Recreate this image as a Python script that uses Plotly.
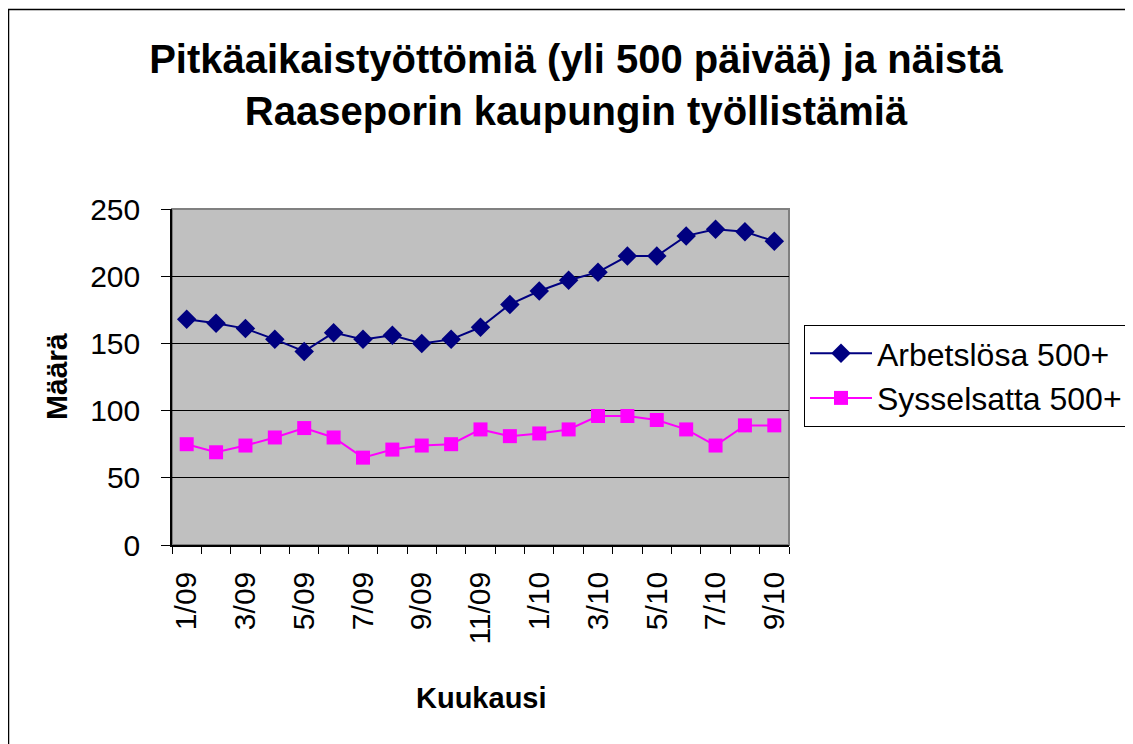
import plotly.graph_objects as go

months = ["1/09", "2/09", "3/09", "4/09", "5/09", "6/09", "7/09", "8/09", "9/09", "10/09",
          "11/09", "12/09", "1/10", "2/10", "3/10", "4/10", "5/10", "6/10", "7/10", "8/10", "9/10"]
arbetslosa = [168, 165, 161, 153, 144, 158, 153, 156, 150, 153,
              162, 179, 189, 197, 203, 215, 215, 230, 235, 233, 226]
sysselsatta = [75, 69, 74, 80, 87, 80, 65, 71, 74, 75,
               86, 81, 83, 86, 96, 96, 93, 86, 74, 89, 89]
y_ticks = [0, 50, 100, 150, 200, 250]

xs = list(range(len(months)))
FONT = "Liberation Sans, Arial, sans-serif"

W, H = 1133, 744
OFF = 8  # page body margin: figure coords = screen coords - OFF
L, R, T, B = 172 - OFF, 789 - OFF, 209 - OFF, 545 - OFF

def px_x(p):  # screen px -> paper
    return (p - OFF - L) / (R - L)

def px_y(p):
    return (B - (p - OFF)) / (B - T)

fig = go.Figure()
fig.add_trace(go.Scatter(
    x=xs, y=arbetslosa, name="Arbetslösa 500+", mode="lines+markers",
    line=dict(color="#000080", width=2),
    marker=dict(symbol="diamond", size=15, color="#000080"),
))
fig.add_trace(go.Scatter(
    x=xs, y=sysselsatta, name="Sysselsatta 500+", mode="lines+markers",
    line=dict(color="#FF00FF", width=2),
    marker=dict(symbol="square", size=14, color="#FF00FF"),
))

fig.update_layout(
    width=W, height=H,
    margin=dict(l=L, r=W - R, t=T, b=H - B, pad=0),
    paper_bgcolor="white",
    plot_bgcolor="#C0C0C0",
    font=dict(family=FONT, color="black", size=30),
    title=dict(
        text="<b>Pitkäaikaistyöttömiä (yli 500 päivää) ja näistä<br>Raaseporin kaupungin työllistämiä</b>",
        x=(576 - OFF) / W, xanchor="center", xref="container",
        y=1 - 65 / H, yanchor="top", yref="container",
        font=dict(family=FONT, size=40, color="black"),
    ),
    showlegend=True,
    legend=dict(
        x=px_x(804), xanchor="left", y=px_y(325), yanchor="top",
        bordercolor="black", borderwidth=1, bgcolor="white",
        font=dict(family=FONT, size=32, color="black"),
        tracegroupgap=0, itemwidth=62,
    ),
    xaxis=dict(
        range=[-0.5, len(months) - 0.5],
        tickmode="array", tickvals=xs[::2], ticktext=months[::2],
        tickangle=-90, ticks="outside", ticklen=7, tickcolor="rgba(0,0,0,0)",
        ticklabelstandoff=6,
        minor=dict(tickmode="array", tickvals=[i - 0.5 for i in range(len(months) + 1)],
                   ticks="outside", ticklen=7, tickcolor="black", tickwidth=1, showgrid=False),
        showgrid=False, zeroline=False,
        showline=True, linecolor="black", linewidth=1.5,
        tickfont=dict(family=FONT, size=30, color="black"),
    ),
    yaxis=dict(
        range=[0, 250], tickmode="array", tickvals=y_ticks,
        ticks="outside", ticklen=9, tickcolor="black", tickwidth=1,
        ticklabelstandoff=15,
        showgrid=True, gridcolor="black", gridwidth=1,
        zeroline=False,
        showline=True, linecolor="black", linewidth=1.5,
        tickfont=dict(family=FONT, size=30, color="black"),
    ),
    annotations=[
        dict(text="<b>Määrä</b>", x=px_x(56), y=0.5, xref="paper", yref="paper",
             textangle=-90, showarrow=False, xanchor="center", yanchor="middle",
             font=dict(family=FONT, size=30, color="black")),
        dict(text="<b>Kuukausi</b>", x=px_x(481), y=px_y(698), xref="paper", yref="paper",
             showarrow=False, xanchor="center", yanchor="middle",
             font=dict(family=FONT, size=29, color="black")),
    ],
    shapes=[
        dict(type="rect", xref="paper", yref="paper", x0=0, x1=1, y0=0, y1=1,
             line=dict(color="#808080", width=2), layer="between"),
        dict(type="rect", xref="paper", yref="paper",
             x0=px_x(8.5), x1=px_x(1160), y0=px_y(770), y1=px_y(9.5),
             line=dict(color="black", width=1.5), layer="above"),
    ],
)

fig.write_html("out.html")
